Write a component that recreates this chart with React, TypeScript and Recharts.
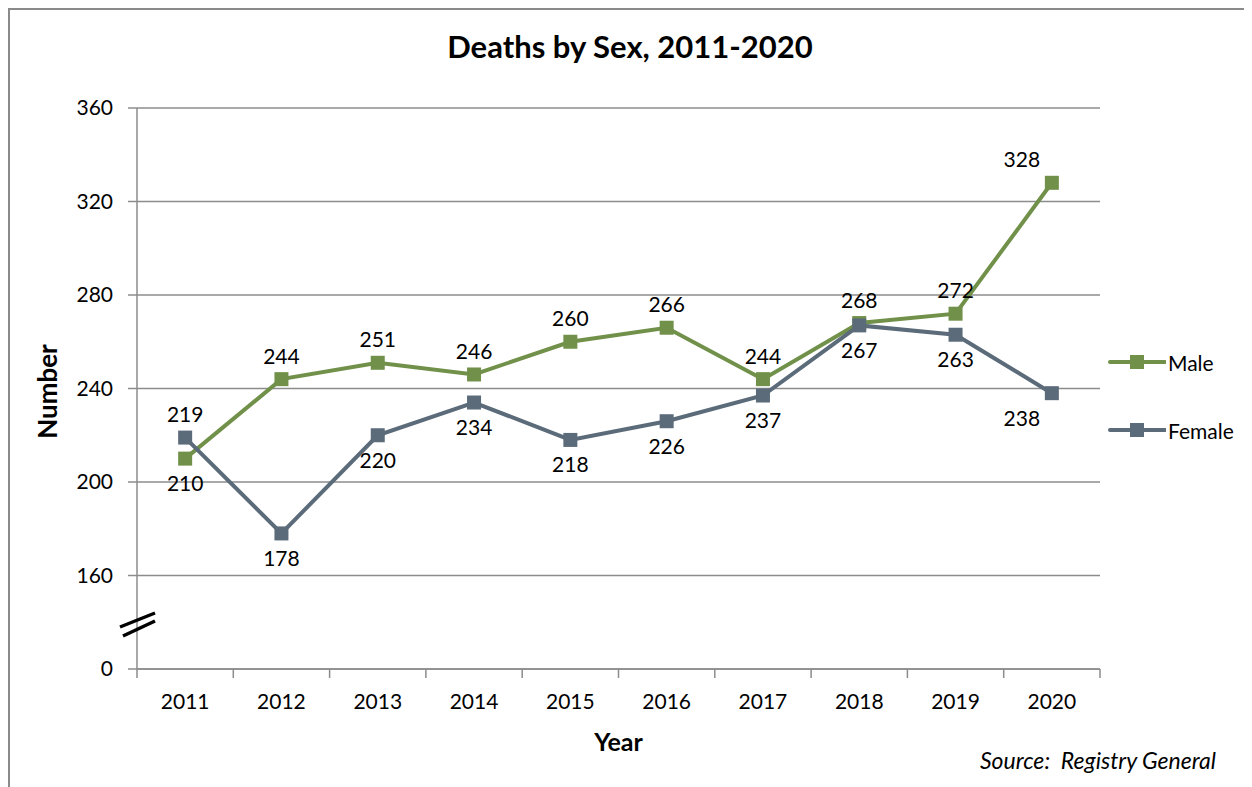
import React from 'react';
import {
  LineChart,
  Line,
  XAxis,
  YAxis,
  CartesianGrid,
  LabelList,
  Label,
} from 'recharts';

const years = ['2011', '2012', '2013', '2014', '2015', '2016', '2017', '2018', '2019', '2020'];
const male = [210, 244, 251, 246, 260, 266, 244, 268, 272, 328];
const female = [219, 178, 220, 234, 218, 226, 237, 267, 263, 238];
// axis is broken: the bottom tick (120) is shown as 0
const yTicks = [120, 160, 200, 240, 280, 320, 360];
const yTickLabels = ['0', '160', '200', '240', '280', '320', '360'];

const MALE = '#71914a';
const FEMALE = '#5b6b7a';
const AXIS = '#8c8c8c';
const FONT = 'Lato, "Open Sans", sans-serif';

const W = 1244;
const H = 779;
const margin = { top: 100, right: 152, bottom: 58, left: 0 };
const yAxisW = 129;
const plotW = W - margin.left - margin.right - yAxisW;
const halfBand = plotW / years.length / 2;

const data = years.map((year, i) => ({ year, Male: male[i], Female: female[i] }));

const Square = (color: string) => (props: any) => {
  const { cx, cy, index } = props;
  if (cx == null || cy == null) return null;
  return <rect key={index} x={cx - 7} y={cy - 7} width={14} height={14} fill={color} />;
};

const makeLabel = (own: number[], other: number[]) => (props: any) => {
  const { x, y, value, index } = props;
  const above = own[index] >= other[index];
  const dx = index === years.length - 1 ? -30 : 0;
  return (
    <text
      x={x + dx}
      y={above ? y - 24 : y + 24}
      textAnchor="middle"
      dominantBaseline="central"
      fontSize={21}
      fill="#000"
      fontFamily={FONT}
    >
      {value}
    </text>
  );
};

const XTick = (props: any) => {
  const { x, y, payload, index } = props;
  const last = index === years.length - 1;
  return (
    <g>
      <line x1={x - halfBand} x2={x - halfBand} y1={y} y2={y + 9} stroke={AXIS} strokeWidth={1.5} />
      {last && (
        <line x1={x + halfBand} x2={x + halfBand} y1={y} y2={y + 9} stroke={AXIS} strokeWidth={1.5} />
      )}
      <text x={x} y={y + 31} textAnchor="middle" dominantBaseline="central" fontSize={21} fill="#000" fontFamily={FONT}>
        {payload.value}
      </text>
    </g>
  );
};

const series = [
  { name: 'Male', color: MALE },
  { name: 'Female', color: FEMALE },
];

const LegendBox = () => (
  <div style={{ position: 'absolute', left: 1100, top: 340, fontSize: 21 }}>
    {series.map((s, i) => (
      <div key={s.name} style={{ display: 'flex', alignItems: 'center', height: 28, marginTop: i ? 40 : 0 }}>
        <svg width={58} height={20}>
          <line x1={2} x2={57} y1={10} y2={10} stroke={s.color} strokeWidth={4} strokeLinecap="round" />
          <rect x={22} y={3} width={14} height={14} fill={s.color} />
        </svg>
        <span style={{ marginLeft: 2 }}>{s.name}</span>
      </div>
    ))}
  </div>
);

export default function App() {
  return (
    <div style={{ position: 'relative', width: W, height: H, fontFamily: FONT, overflow: 'hidden' }}>
      <div
        style={{
          position: 'absolute',
          left: 0,
          width: W,
          top: 20,
          textAlign: 'center',
          fontWeight: 700,
          fontSize: 31,
          lineHeight: '36px',
        }}
      >
        Deaths by Sex, 2011-2020
      </div>
      <LineChart width={W} height={H} data={data} margin={margin}>
        <CartesianGrid vertical={false} stroke={AXIS} strokeWidth={1.5} />
        <XAxis
          dataKey="year"
          padding={{ left: halfBand, right: halfBand }}
          stroke={AXIS}
          strokeWidth={1.5}
          tickLine={false}
          tickSize={0}
          tickMargin={0}
          height={60}
          interval={0}
          tick={<XTick />}
        >
          <Label
            content={({ viewBox }: any) => (
              <text
                x={viewBox.x + viewBox.width / 2}
                y={viewBox.y + 72}
                textAnchor="middle"
                dominantBaseline="central"
                fontWeight={700}
                fontSize={25}
                fontFamily={FONT}
              >
                Year
              </text>
            )}
          />
        </XAxis>
        <YAxis
          width={yAxisW}
          domain={[120, 360]}
          ticks={yTicks}
          tickFormatter={(v: number) => yTickLabels[yTicks.indexOf(v)]}
          stroke={AXIS}
          strokeWidth={1.5}
          tickSize={9}
          tickMargin={15}
          tick={{ fill: '#000', fontSize: 21, fontFamily: FONT }}
          interval={0}
        >
          <Label
            content={({ viewBox }: any) => {
              const cx = viewBox.x + 39;
              const cy = viewBox.y + viewBox.height / 2 + 3;
              return (
                <text
                  x={cx}
                  y={cy}
                  transform={`rotate(-90 ${cx} ${cy})`}
                  textAnchor="middle"
                  dominantBaseline="central"
                  fontWeight={700}
                  fontSize={26}
                  fontFamily={FONT}
                >
                  Number
                </text>
              );
            }}
          />
        </YAxis>
        <Line
          dataKey="Male"
          stroke={MALE}
          strokeWidth={4}
          dot={Square(MALE)}
          activeDot={false}
          isAnimationActive={false}
        >
          <LabelList dataKey="Male" content={makeLabel(male, female)} />
        </Line>
        <Line
          dataKey="Female"
          stroke={FEMALE}
          strokeWidth={4}
          dot={Square(FEMALE)}
          activeDot={false}
          isAnimationActive={false}
        >
          <LabelList dataKey="Female" content={makeLabel(female, male)} />
        </Line>
      </LineChart>
      <LegendBox />
      <svg style={{ position: 'absolute', left: 0, top: 0, pointerEvents: 'none' }} width={W} height={H}>
        <line x1={112} y1={619} x2={147} y2={605} stroke="#000" strokeWidth={3.5} />
        <line x1={115} y1={628} x2={147} y2={613} stroke="#000" strokeWidth={3.5} />
        <line x1={0} y1={1} x2={W} y2={1} stroke="#8a8a8a" strokeWidth={2} />
        <line x1={1} y1={0} x2={1} y2={H} stroke="#8a8a8a" strokeWidth={2} />
      </svg>
      <div
        style={{
          position: 'absolute',
          right: 36,
          top: 738,
          fontStyle: 'italic',
          fontSize: 23,
          whiteSpace: 'pre',
        }}
      >
        {'Source:  Registry General'}
      </div>
    </div>
  );
}
